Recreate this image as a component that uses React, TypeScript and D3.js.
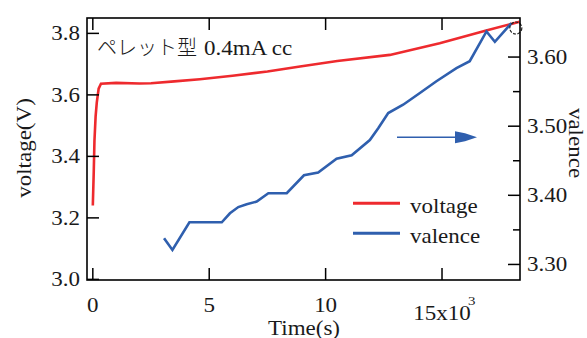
import * as d3 from "d3";

const W = 587;
const H = 338;
const left = 87;
const right = 520;
const top = 18;
const bottom = 280;
const SX = 1.15; // the original text is a bit wider than Liberation Serif

// voltage (left axis), time in seconds
const timeV = [0, 40, 70, 120, 170, 250, 350, 1000, 2000, 2500, 3500, 4600, 6000, 7500, 8900, 10500, 12760, 14900, 16900, 18330];
const voltage = [3.24, 3.35, 3.45, 3.53, 3.575, 3.62, 3.636, 3.639, 3.637, 3.638, 3.644, 3.651, 3.662, 3.676, 3.692, 3.71, 3.73, 3.768, 3.809, 3.838];

// valence (right axis)
const timeVal = [3060, 3420, 4150, 5540, 5890, 6250, 6610, 7040, 7540, 8330, 9070, 9680, 10470, 11120, 11900, 12260, 12690, 13330, 14050, 14760, 15620, 16190, 16910, 17270, 17980];
const valence = [3.338, 3.321, 3.361, 3.361, 3.374, 3.383, 3.387, 3.391, 3.403, 3.403, 3.429, 3.433, 3.453, 3.458, 3.48, 3.497, 3.519, 3.531, 3.548, 3.565, 3.584, 3.594, 3.637, 3.622, 3.649];
const endMark = [18170, 3.642];

const xTicks = [0, 5000, 10000, 15000];
const xLabels = ["0", "5", "10", "15x10"];
const leftTicks = [3.0, 3.2, 3.4, 3.6, 3.8];
const rightMajor = [3.3, 3.4, 3.5, 3.6];
const rightMinor = [3.35, 3.45, 3.55];

const serif = "'Liberation Serif', 'Times New Roman', serif";

const SText = ({ x, y, anchor = "start", size = 20, children, rotate = 0 }: any) => (
  <text
    transform={`translate(${x},${y}) rotate(${rotate}) scale(${SX},1)`}
    textAnchor={anchor}
    fontFamily={serif}
    fontSize={size}
    fill="#1a1a1a"
  >
    {children}
  </text>
);

export default function App() {
  const x = d3.scaleLinear().domain([-250, 18350]).range([left, right]);
  const yL = d3.scaleLinear().domain([2.998, 3.85]).range([bottom, top]);
  const yR = d3.scaleLinear().domain([3.2775, 3.6565]).range([bottom, top]);

  const vLine = d3
    .line<number>()
    .x((d, i) => x(timeV[i]))
    .y((d) => yL(d));
  const valLine = d3
    .line<number>()
    .x((d, i) => x(timeVal[i]))
    .y((d) => yR(d));

  const ay = 137.3;
  return (
    <svg
      width={W}
      height={H}
      viewBox={`0 0 ${W} ${H}`}
      style={{ position: "absolute", left: 0, top: 0, background: "#fff" }}
    >
      <rect x={0} y={0} width={W} height={H} fill="#fff" />

      {/* data */}
      <path d={vLine(voltage) ?? ""} fill="none" stroke="#ee2a2e" strokeWidth={2.6} />
      <path d={valLine(valence) ?? ""} fill="none" stroke="#2f5fae" strokeWidth={2.6} />
      <circle
        cx={x(endMark[0])}
        cy={yR(endMark[1])}
        r={6}
        fill="none"
        stroke="#222"
        strokeWidth={1.2}
        strokeDasharray="3,1.5"
      />

      {/* frame */}
      <rect x={left} y={top} width={right - left} height={bottom - top} fill="none" stroke="#000" strokeWidth={1.6} />

      {/* bottom and top ticks */}
      {xTicks.map((t, i) => (
        <g key={t}>
          <line x1={x(t)} x2={x(t)} y1={bottom} y2={bottom - 12} stroke="#000" strokeWidth={1.5} />
          <line x1={x(t)} x2={x(t)} y1={top} y2={top + 12} stroke="#000" strokeWidth={1.5} />
          <SText x={x(t)} y={i === 3 ? 320 : 312} anchor="middle">
            {xLabels[i]}
          </SText>
        </g>
      ))}
      <SText x={468} y={305} size={13}>
        3
      </SText>

      {/* left ticks */}
      {leftTicks.map((t) => (
        <g key={t}>
          <line x1={left} x2={left + 12} y1={yL(t)} y2={yL(t)} stroke="#000" strokeWidth={1.5} />
          <SText x={80} y={yL(t) + 7} anchor="end">
            {t.toFixed(1)}
          </SText>
        </g>
      ))}

      {/* right ticks */}
      {rightMajor.map((t) => (
        <g key={t}>
          <line x1={right} x2={right - 12} y1={yR(t)} y2={yR(t)} stroke="#000" strokeWidth={1.5} />
          <SText x={527} y={yR(t) + 7}>
            {t.toFixed(2)}
          </SText>
        </g>
      ))}
      {rightMinor.map((t) => (
        <line key={t} x1={right} x2={right - 7} y1={yR(t)} y2={yR(t)} stroke="#000" strokeWidth={1.5} />
      ))}

      {/* axis titles */}
      <SText x={304} y={335} anchor="middle">
        Time(s)
      </SText>
      <SText x={31} y={148} anchor="middle" rotate={-90}>
        voltage(V)
      </SText>
      <SText x={569} y={143} anchor="middle" rotate={90}>
        valence
      </SText>

      {/* title */}
      <text x={97} y={55} fontFamily="'Noto Sans CJK JP', sans-serif" fontWeight={300} fontSize={20} fill="#1a1a1a">
        ペレット型
      </text>
      <SText x={204} y={55}>
        0.4mA cc
      </SText>

      {/* arrow */}
      <line x1={397} x2={460} y1={ay} y2={ay} stroke="#2f5fae" strokeWidth={1.5} />
      <polygon
        points={`455,${ay - 6} 465,${ay - 4} 477,${ay} 465,${ay + 4} 455,${ay + 6}`}
        fill="#2f5fae"
      />

      {/* legend */}
      <line x1={353} x2={400} y1={203.3} y2={203.3} stroke="#ee2a2e" strokeWidth={3} />
      <SText x={410} y={213}>
        voltage
      </SText>
      <line x1={353} x2={400} y1={233.3} y2={233.3} stroke="#2f5fae" strokeWidth={3} />
      <SText x={410} y={243}>
        valence
      </SText>
    </svg>
  );
}
